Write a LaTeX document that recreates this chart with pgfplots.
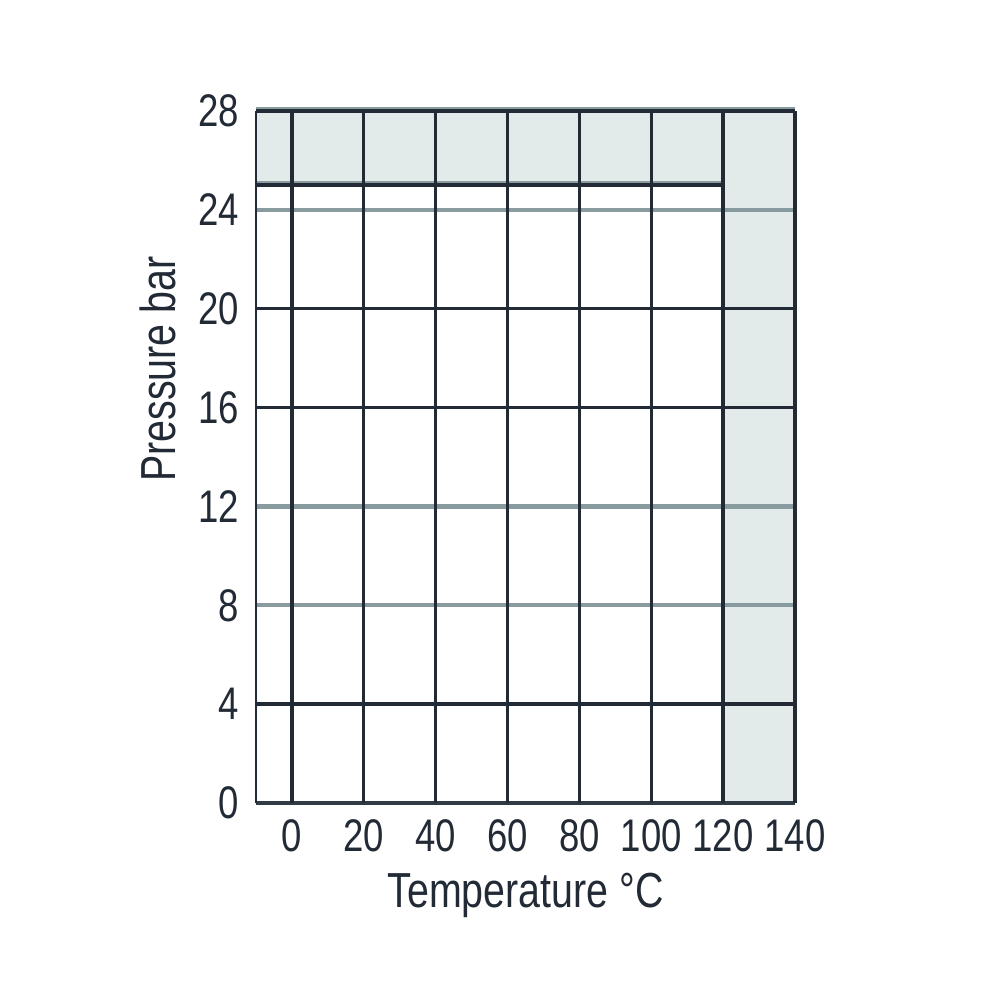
\documentclass[border=0pt]{standalone}
\usepackage{pgfplots}
\pgfplotsset{compat=1.18}
\usepackage{fontspec}
\setmainfont{Liberation Sans}[FakeStretch=0.8]
\definecolor{dk}{HTML}{222A36}
\definecolor{gr}{HTML}{889CA0}
\definecolor{sh}{HTML}{E3EAEA}
\begin{document}
\begin{tikzpicture}
\path[use as bounding box] (-25.6mm,-19.8mm) rectangle (74.5mm,80.3mm);
\begin{axis}[
  at={(0,0)}, anchor=south west,
  scale only axis, width=53.9mm, height=69.2mm,
  xmin=-10, xmax=140, ymin=0, ymax=28,
  axis line style={draw=none},
  major tick length=0pt,
  xtick={0,20,...,140}, ytick={0,4,...,28},
  /pgf/number format/assume math mode=true,
  ticklabel style={font=\fontsize{13}{15}\selectfont, text=dk},
  xticklabel style={inner sep=0pt, anchor=north, yshift=-1.6mm},
  yticklabel style={inner sep=0pt, anchor=east, xshift=-1.6mm},
  xlabel={Temperature °C},
  ylabel={Pressure bar},
  label style={font=\fontsize{14}{16}\selectfont, text=dk},
  xlabel style={at={(axis description cs:0.5,0)}, anchor=north, yshift=-6.9mm, inner sep=0pt},
  ylabel style={at={(axis description cs:-0.182,0.627)}, anchor=center, rotate=0, inner sep=0pt},
  clip=false,
]
% shaded region
\addplot[fill=sh, draw=none] coordinates {(-10,25) (120,25) (120,0) (140,0) (140,28) (-10,28)} -- cycle;
% gray lines
\addplot[gr, line width=0.42mm, forget plot] coordinates {(-10,8) (140,8)};
\addplot[gr, line width=0.42mm, forget plot] coordinates {(-10,12) (140,12)};
\addplot[gr, line width=0.42mm, forget plot] coordinates {(-10,24) (140,24)};
\addplot[gr, line width=0.3mm, forget plot, yshift=0.25mm] coordinates {(-10,28) (140,28)};
\addplot[gr, line width=0.3mm, forget plot, yshift=0.25mm] coordinates {(-10,25) (120,25)};
% dark lines
\addplot[dk, line width=0.33mm] coordinates {(-10,4) (140,4)};
\addplot[dk, line width=0.33mm] coordinates {(-10,16) (140,16)};
\addplot[dk, line width=0.33mm] coordinates {(-10,20) (140,20)};
\addplot[dk, line width=0.33mm] coordinates {(-10,25) (120,25)};
\addplot[dk, line width=0.33mm] coordinates {(-10,28) (140,28)};
\addplot[dk!85!gr, line width=0.33mm] coordinates {(-10,0) (140,0)};
\addplot[dk, line width=0.25mm] coordinates {(-10,0) (-10,28)};
\addplot[dk, line width=0.33mm] coordinates {(0,0) (0,28)};
\addplot[dk, line width=0.33mm] coordinates {(20,0) (20,28)};
\addplot[dk, line width=0.33mm] coordinates {(40,0) (40,28)};
\addplot[dk, line width=0.33mm] coordinates {(60,0) (60,28)};
\addplot[dk, line width=0.33mm] coordinates {(80,0) (80,28)};
\addplot[dk, line width=0.33mm] coordinates {(100,0) (100,28)};
\addplot[dk, line width=0.33mm] coordinates {(120,0) (120,28)};
\addplot[dk, line width=0.33mm] coordinates {(140,0) (140,28)};
\end{axis}
\end{tikzpicture}
\end{document}
